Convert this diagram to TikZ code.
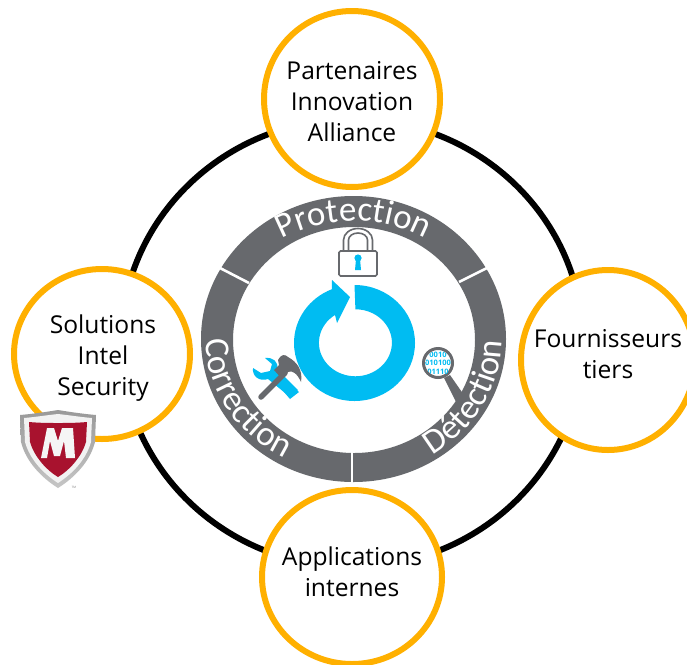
\documentclass[tikz,border=0pt]{standalone}
\usepackage{fontspec}
\setmainfont{Open Sans}
\newfontfamily\arcfont{Carlito}
\usetikzlibrary{decorations.text}
\definecolor{orangeC}{HTML}{FFB000}
\definecolor{greyC}{HTML}{67696D}
\definecolor{blueC}{HTML}{00BCF2}
\definecolor{redC}{HTML}{A8122E}
\tikzset{
  label/.style={align=center,font=\fontsize{24.6}{31}\selectfont,text=black,inner sep=0pt},
  ringgap/.style={draw=white,line width=2.6pt},
  arcword/.style={decorate,decoration={text along path,text align=center,
    text color=white,text={|\arcfont\fontsize{35}{35}\selectfont|#1}}},
}
\begin{document}
\begin{tikzpicture}[x=1pt,y=-1pt]
\useasboundingbox (0,0) rectangle (687,664);
\clip (0,0) rectangle (687,664);
\fill[white] (0,0) rectangle (687,664);
% black ring
\draw[black,line width=6pt] (352,343) ellipse [x radius=231,y radius=224];
% orange circles
\foreach \n/\x/\y/\rx/\ry in {top/352/99/88/88,left/102/354/88/85,right/608/360/87/90,bottom/352/577/90/87}{
  \draw[draw=orangeC,line width=6pt,fill=white] (\x,\y) ellipse [x radius=\rx,y radius=\ry];
  \coordinate (c\n) at (\x,\y);
}
\node[label] (ta) at (352,102) {Partenaires\\Innovation\\Alliance};
\node[label] (tb) at (103,358) {Solutions\\Intel\\Security};
\node[label] (tc) at (608,354) {Fournisseurs\\tiers};
\node[label] (td) at (352,572) {Applications\\internes};
% grey ring
\fill[greyC,even odd rule] (353.5,339) ellipse [x radius=152.5,y radius=143]
   (354,340) ellipse [x radius=121,y radius=113];
\draw[ringgap] (219,267.5) -- (249,283);
\draw[ringgap] (459,282) -- (489,267);
\draw[ringgap] (352,452) -- (352,484);
% ring words
\path[arcword=Protection] (353.5,339) ++(200:136 and 118) arc [start angle=200,end angle=340,x radius=136,y radius=118];
\path[arcword=Correction] (353.5,339) ++(186:148 and 134) arc [start angle=186,end angle=112,x radius=148,y radius=134];
\path[arcword=Détection] (353.5,339) ++(66:148 and 137) arc [start angle=66,end angle=-8,x radius=148,y radius=137];
% blue arrow ring
\fill[blueC] (354.5,285) arc [start angle=270,end angle=608,x radius=60.5,y radius=58]
  -- (332,280) -- (350,297) -- (337,323) -- (335,315)
  arc [start angle=596,end angle=270,x radius=36.5,y radius=33.5] -- cycle;
% lock
\draw[greyC,line width=1.6pt,rounded corners=1.5pt] (339,251) rectangle (377,276);
\draw[greyC,line width=1.6pt] (343.5,251) -- (343.5,240) arc [start angle=180,end angle=360,x radius=14.5,y radius=11.5] -- (372.5,251);
\draw[greyC,line width=1.6pt] (348.5,251) -- (348.5,240) arc [start angle=180,end angle=360,x radius=9.5,y radius=7] -- (367.5,251);
\fill[blueC] (358,258) circle (3.6);
\fill[blueC] (356,259) -- (360,259) -- (361,270) -- (355,270) -- cycle;
% tools
\fill[blueC] (253,368) .. controls (252,376) and (259,382) .. (268,379)
  -- (290,397) -- (298,390) -- (277,369) .. controls (279,362) and (273,357) .. (265,358)
  -- (272,364) -- (270,371) -- (261,373) -- cycle;
\fill[blueC] (278,385) -- (284,378) -- (299,392) -- (290,399) -- cycle;
\draw[greyC,line width=5.5pt,line cap=round] (261,397) -- (285,373);
\fill[greyC] (278,360) .. controls (281,354) and (285,354) .. (288,357)
  .. controls (297,362) and (303,370) .. (301,382) .. controls (297,373) and (292,370) .. (288,372)
  -- (282,379) -- (274,370) -- (279,365) -- cycle;
% magnifier
\fill[greyC] (444,378) -- (450,375) -- (466,398) -- (460,410) -- cycle;
\draw[greyC,line width=3pt,fill=white] (438,363) circle (14.5);
\begin{scope}
\clip (438,363) circle (13);
\node[font=\fontsize{7.5}{8.5}\bfseries\selectfont,text=blueC,align=center,inner sep=0pt] (bin) at (438,363) {0010\\010100\\01110};
\end{scope}
% shield
\shade[top color=gray!80,bottom color=gray!45] (20,415) .. controls (32,414) and (46,412) .. (58,410)
  .. controls (70,412) and (84,414) .. (96,415) -- (95,442) .. controls (90,462) and (74,478) .. (58,488)
  .. controls (42,478) and (26,462) .. (21,442) -- cycle;
\fill[gray!10] (24,418) .. controls (36,417) and (48,415) .. (58,414)
  .. controls (68,415) and (80,417) .. (92,418) -- (91,442) .. controls (86,460) and (72,474) .. (58,483)
  .. controls (44,474) and (30,460) .. (25,442) -- cycle;
\fill[redC] (29,422) .. controls (40,423) and (50,423) .. (58,423)
  .. controls (66,423) and (76,423) .. (87,422) -- (86,442) .. controls (82,456) and (70,470) .. (58,477)
  .. controls (46,470) and (34,456) .. (30,442) -- cycle;
\fill[gray!8] (47,428) -- (54,428) -- (58,441) -- (62,428) -- (73,428) -- (75,458) -- (66,458)
  -- (64,441) -- (60,456) -- (54,456) -- (50,441) -- (47,458) -- (41,458) -- cycle;
\node[font=\fontsize{3}{3}\selectfont,text=gray,inner sep=0pt] (tm) at (74,487) {TM};
\end{tikzpicture}
\end{document}
